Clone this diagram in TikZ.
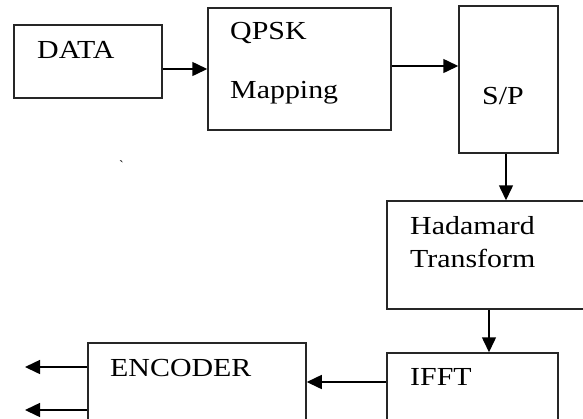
\documentclass[tikz,border=0pt]{standalone}
\usepackage{fontspec}
\usepackage{graphicx}
\setmainfont{Liberation Serif}
\usetikzlibrary{arrows.meta}
\tikzset{
  blk/.style={draw=black!85, line width=1.5pt, rectangle, inner sep=0pt},
  arr/.style={draw=black, line width=1.5pt, -{Triangle[length=15pt,width=14pt]}},
  lbl/.style={anchor=base west, inner sep=0pt, font=\fontsize{26}{28}\selectfont}
}
\newcommand{\wide}[1]{\scalebox{1.15}[1]{#1}}
\begin{document}
\begin{tikzpicture}[x=1pt,y=-1pt]
\useasboundingbox (0,0) rectangle (583,418);
\clip (0,0) rectangle (583,418);
% boxes
\node[blk, minimum width=148pt, minimum height=73pt] (data) at (88,61.5) {};
\node[blk, minimum width=183pt, minimum height=122pt] (qpsk) at (299.5,69) {};
\node[blk, minimum width=99pt, minimum height=147pt] (sp) at (508.5,79.5) {};
\node[blk, minimum width=220pt, minimum height=108pt] (had) at (497,255) {};
\node[blk, minimum width=171pt, minimum height=90pt] (ifft) at (472.5,398) {};
\node[blk, minimum width=218pt, minimum height=100pt] (enc) at (197,393) {};
% labels
\node[lbl] (tdata) at (37,58) {\wide{DATA}};
\node[lbl] (tqpsk) at (230,39) {\wide{QPSK}};
\node[lbl] (tmap) at (230,98) {\wide{Mapping}};
\node[lbl] (tsp) at (482,104) {\wide{S/P}};
\node[lbl] (thad) at (410,234) {\wide{Hadamard}};
\node[lbl] (ttr) at (410,267) {\wide{Transform}};
\node[lbl] (tifft) at (410,385) {\wide{IFFT}};
\node[lbl] (tenc) at (110,376) {\wide{ENCODER}};
\node[lbl, font=\fontsize{14}{14}\selectfont] (tick) at (119,170) {\textasciigrave};
% connectors
\draw[arr] (data.east |- qpsk.west) -- (qpsk.west);
\coordinate (c0) at ([yshift=3pt]qpsk.east);
\draw[arr] (c0) -- (sp.west |- c0);
\coordinate (c1) at ([xshift=-2.5pt]sp.south);
\draw[arr] (c1) -- (c1 |- had.north);
\coordinate (c2) at ([xshift=16.5pt]ifft.north);
\draw[arr] (c2 |- had.south) -- (c2);
\coordinate (c3) at ([yshift=16pt]ifft.west);
\draw[arr] (c3) -- (enc.east |- c3);
\coordinate (o1) at (25,367);
\coordinate (o2) at (25,410);
\draw[arr] (enc.west |- o1) -- (o1);
\draw[arr] (enc.west |- o2) -- (o2);
\end{tikzpicture}
\end{document}
